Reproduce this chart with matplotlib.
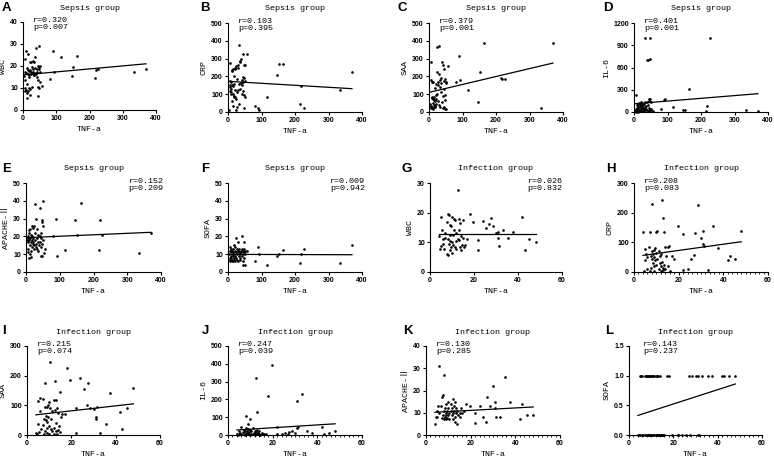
import numpy as np
import matplotlib.pyplot as plt
from matplotlib.ticker import MultipleLocator, FormatStrFormatter

W, H = 774, 458

# ---- sepsis group (TNF-a shared by panels A-F) ----
sepsis_tnf = [4, 5, 5, 6, 7, 7, 8, 9, 10, 10,
              11, 12, 12, 13, 14, 15, 15, 16, 17, 17,
              18, 19, 20, 20, 21, 22, 23, 24, 25, 26,
              27, 28, 29, 30, 31, 32, 33, 34, 35, 36,
              37, 38, 40, 41, 42, 43, 44, 44, 45, 46,
              47, 47, 48, 49, 50, 50, 52, 56,
              81, 90, 92, 115, 146, 151, 163, 216, 219, 226, 334, 370]

sepsis_wbc = [15.5, 9.9, 23, 13.7, 17.5, 8.5, 9.2, 16.8, 26.6, 17,
              7.6, 5.3, 19, 12, 16.5, 25.5, 8.8, 18.2, 9.9, 15.2,
              17.8, 16, 6.8, 18, 21.8, 9.4, 17.2, 22, 16.5, 19.5,
              10.3, 16.7, 22.4, 17.5, 18.5, 22, 15.8, 16, 17, 19,
              24.3, 16.2, 28, 17.5, 18.8, 15, 13.7, 10.3, 19.8, 6.4,
              29, 9.9, 18.5, 19.5, 20, 12.9, 17.5, 11,
              14.1, 26.6, 17.5, 24.3, 15.3, 19.7, 24.6, 14.7, 18.2, 18.7, 17.5, 18.8]

sepsis_crp = [9, 120, 175, 140, 275, 150, 100, 115, 168, 131,
              230, 234, 60, 150, 144, 32, 100, 240, 200, 84,
              160, 90, 243, 84, 250, 125, 9, 75, 260, 110,
              28, 187, 245, 262, 122, 375, 155, 43, 285, 130,
              281, 165, 300, 180, 150, 103, 324, 120, 195, 170,
              262, 97, 24, 193, 266, 84, 172, 328,
              32, 24, 9, 84, 206, 268, 268, 47, 146, 24, 125, 224]

sepsis_saa = [47, 20, 281, 30, 178, 32, 80, 25, 169, 84,
              50, 19, 170, 75, 65, 40, 85, 30, 32, 137,
              60, 28, 75, 45, 155, 94, 100, 365, 225, 150,
              169, 60, 40, 369, 215, 28, 140, 178, 110, 165,
              193, 55, 281, 90, 262, 20, 243, 131, 30, 175,
              187, 94, 19, 65, 169, 19, 165, 256,
              169, 313, 182, 125, 56, 225, 388, 193, 187, 184, 24, 388]

sepsis_il6 = [20, 5, 10, 40, 225, 15, 60, 30, 8, 90,
              25, 110, 5, 70, 45, 15, 120, 30, 80, 10,
              100, 20, 50, 95, 12, 130, 35, 75, 105, 60,
              20, 90, 40, 110, 15, 1002, 65, 130, 25, 80,
              45, 140, 697, 10, 705, 100, 170, 30, 150, 60,
              180, 20, 719, 1002, 140, 35, 25, 15,
              45, 157, 180, 67, 31, 22, 315, 13, 76, 1002, 22, 13]

sepsis_apache = [18, 11, 13, 19, 17, 20, 8, 22, 23.4, 18,
                 15, 24, 10, 19, 8.4, 17, 21, 12, 26, 18,
                 14, 20, 16, 25, 19, 17, 26, 13, 15, 38,
                 22, 18, 14, 16, 30, 24, 19, 13, 17, 21,
                 12, 15, 36, 20, 17, 22, 19, 14, 9, 28,
                 29, 16, 8.8, 40, 26, 18, 10.9, 13,
                 20, 30, 8.8, 12.2, 29, 21, 39, 12.2, 29, 21, 10.9, 22]

sepsis_sofa = [10, 12, 7, 8, 14, 6, 11, 9, 13, 8,
               6, 12, 10, 7, 9, 11, 13, 6, 15, 8,
               10, 7, 14, 9, 6, 12, 8, 19, 11, 13,
               7, 10, 12, 17, 6, 9, 11, 13, 8, 7,
               10, 12, 11, 9, 20, 13, 6, 10, 4, 12,
               11, 8, 13, 17, 4, 12, 10, 12,
               6, 14, 10, 4, 9.2, 10, 12.2, 5, 10, 13.1, 5, 15]

# ---- infection group (TNF-a shared by panels G-L) ----
infection_tnf = [4, 4.5, 5, 5, 5.5, 6, 6, 6.5, 7, 7,
                 7.5, 7.5, 8, 8, 8, 8.5, 8.5, 9, 9, 9,
                 9, 9.5, 9.5, 10, 10, 10, 10.5, 10.5, 11, 11,
                 11.5, 11.5, 12, 12, 12, 12.5, 12.5, 13, 13, 13,
                 13.5, 13.5, 14, 14, 14.5, 15, 15, 15.5, 16,
                 17, 18, 19.5, 22, 22, 24, 25.5, 27, 27.5, 28.5,
                 30, 31, 31, 31.5, 33, 35.5, 37.5, 42, 43, 45, 48]

infection_wbc = [12, 7.9, 18.5, 8.7, 14, 11, 9.5, 7.9, 11.6, 13,
                 6, 17, 19.7, 11, 5.8, 19.1, 9.5, 15.7, 10.5, 12.5,
                 7.3, 15.4, 8.3, 18.5, 10, 6.5, 12.5, 9.2, 18, 14,
                 17.4, 8.5, 13.1, 10.5, 7.8, 27.8, 11, 10.7, 18, 14,
                 16.5, 8.4, 7.3, 12, 9, 17.6, 11.6, 8.5, 9,
                 11.2, 19.7, 16.9, 10.9, 7.5, 17.1, 14.8, 16.1, 18.2, 15.4,
                 13, 13.5, 11.6, 8.8, 14, 11.5, 13.5, 18.5, 7.5, 11, 10]

infection_crp = [135, 5, 79, 40, 62, 50, 10, 85, 135, 5,
                 55, 15, 228, 45, 70, 30, 60, 75, 20, 50,
                 5, 80, 40, 134, 25, 65, 137, 45, 70, 10,
                 30, 55, 20, 60, 5, 244, 35, 183, 15, 8,
                 135, 25, 85, 10, 55, 84, 20, 86, 5,
                 53, 45, 154, 8, 127, 11, 45, 56, 131, 225,
                 116, 138, 96, 87, 8, 154, 82, 39, 53, 45, 138]

infection_saa = [8, 3, 116, 38, 10, 124, 80, 20, 120, 35,
                 5, 55, 174, 95, 15, 65, 50, 95, 25, 45,
                 8, 100, 60, 110, 30, 5, 247, 90, 20, 55,
                 12, 80, 118, 25, 3, 183, 85, 118, 15, 40,
                 90, 5, 75, 18, 30, 146, 10, 60, 70,
                 71, 225, 185, 90, 8, 191, 154, 101, 176, 90,
                 86, 60, 53, 95, 8, 37, 143, 79, 20, 90, 160]

infection_il6 = [5, 2, 20, 3, 10, 45, 5, 15, 8, 30,
                 2, 25, 107, 12, 40, 5, 20, 60, 3, 35,
                 10, 15, 5, 88, 30, 2, 20, 8, 40, 5,
                 12, 3, 25, 8, 2, 318, 15, 131, 5, 30,
                 10, 3, 20, 6, 2, 12, 4, 8, 3,
                 5, 219, 393, 47, 3, 8, 12, 5, 15, 20,
                 10, 193, 37, 47, 228, 24, 9, 43, 5, 13, 22]

infection_apache = [5, 8, 11, 8.2, 13, 31, 10, 13, 17, 7.5,
                    18, 9, 27, 11, 7, 12, 8, 10, 7, 14,
                    9, 11, 7.5, 15, 9, 12, 10, 7, 14, 11,
                    12, 9, 16, 10, 7, 13, 11, 15, 8, 6,
                    10, 12, 5, 11, 9, 10, 8, 12, 10,
                    11, 14, 13, 10, 5.2, 13, 8.2, 6, 17, 13,
                    22, 15, 12, 8.2, 8.2, 26, 15, 7, 14, 9, 9]

infection_sofa = [0, 0, 1, 0, 1, 0, 1, 0, 1, 0,
                  1, 0, 1, 0, 1, 0, 1, 0, 1, 0,
                  0, 1, 0, 1, 0, 0, 1, 0, 1, 0,
                  0, 1, 0, 1, 0, 0, 1, 0, 1, 0,
                  0, 0, 1, 0, 0, 0, 0, 0, 0,
                  1, 1, 0, 0, 0, 0, 0, 1, 0, 1,
                  1, 1, 0, 0, 1, 1, 1, 1, 1, 1, 1]

# fitted line values (at min TNF-a, at max TNF-a)
fit_start = [16.0, 172, 112, 112, 19.3, 9.9, 12.9, 56, 68, 28, 10.2, 0.33]
fit_end = [21.0, 131, 275, 247, 22.3, 9.7, 12.9, 102, 105, 63, 12.6, 0.86]

r_values = ["0.320", "0.103", "0.379", "0.401", "0.152", "0.009",
            "0.026", "0.208", "0.215", "0.247", "0.130", "0.143"]
p_values = ["0.007", "0.395", "0.001", "0.001", "0.209", "0.942",
            "0.832", "0.083", "0.074", "0.039", "0.285", "0.237"]

letters = list("ABCDEFGHIJKL")
titles = ["Sepsis group"] * 6 + ["Infection group"] * 6
ylabels = ["WBC", "CRP", "SAA", "IL-6", "APACHE-Ⅱ", "SOFA",
           "WBC", "CRP", "SAA", "IL-6", "APACHE-Ⅱ", "SOFA"]
xs = [sepsis_tnf] * 6 + [infection_tnf] * 6
ys = [sepsis_wbc, sepsis_crp, sepsis_saa, sepsis_il6, sepsis_apache, sepsis_sofa,
      infection_wbc, infection_crp, infection_saa, infection_il6,
      infection_apache, infection_sofa]
ymax = [40, 500, 500, 1200, 50, 50, 30, 300, 300, 500, 40, 1.5]
ystep = [10, 100, 100, 300, 10, 10, 10, 100, 100, 100, 10, 0.5]

# axes boxes in pixels: left, right, top, bottom
boxes = [(23, 156, 22, 110), (228, 362, 23, 112), (429, 563, 23, 112), (634, 768, 23, 112),
         (26, 161, 183, 272), (228, 362, 183, 272), (430, 562, 183, 272), (634, 768, 183, 272),
         (27, 160, 346, 435), (228, 362, 346, 435), (426, 560, 346, 435), (629, 762, 346, 435)]
letter_pos = [(2, 2), (200, 2), (398, 2), (603, 2),
              (2, 163), (201, 163), (402, 163), (606, 163),
              (2, 325), (202, 325), (403, 325), (605, 325)]
title_y = [9] * 4 + [169] * 4 + [333] * 4
stat_right = [False, False, False, False, True, True, True, False,
              False, False, False, False]
minor_x = [False] * 7 + [True, False, True, True, True]

mono = ["Liberation Mono", "Noto Sans CJK SC", "DejaVu Sans"]
fs = 6.0

fig = plt.figure(figsize=(W / 100, H / 100), dpi=100)


def fx(px):
    return px / W


def fy(py):
    return 1 - py / H


for i in range(12):
    l, r, t, b = boxes[i]
    ax = fig.add_axes([fx(l), fy(b), (r - l) / W, (b - t) / H])
    x = xs[i]
    y = ys[i]
    ax.scatter(x, y, s=3.6, c="black", linewidths=0, clip_on=False, zorder=3)
    ax.plot([min(x), max(x)], [fit_start[i], fit_end[i]], color="black", lw=0.9)

    if i < 6:
        ax.set_xlim(0, 400)
        ax.set_xticks([0, 100, 200, 300, 400])
    else:
        ax.set_xlim(0, 60)
        ax.set_xticks([0, 20, 40, 60])
        if minor_x[i]:
            ax.xaxis.set_minor_locator(MultipleLocator(2))
    ax.set_ylim(0, ymax[i])
    ax.set_yticks(np.arange(0, ymax[i] + ystep[i] / 2, ystep[i]))
    if i == 11:
        ax.yaxis.set_major_formatter(FormatStrFormatter("%.1f"))

    for s in ["top", "right"]:
        ax.spines[s].set_visible(False)
    for s in ["left", "bottom"]:
        ax.spines[s].set_linewidth(0.8)
    ax.tick_params(which="major", length=2.5, width=0.8, pad=1.2,
                   labelsize=5, direction="out")
    ax.tick_params(which="minor", length=1.5, width=0.6)
    for lab in ax.get_xticklabels() + ax.get_yticklabels():
        lab.set_fontfamily("Liberation Sans")
        lab.set_fontweight("bold")

    ax.set_xlabel("TNF-a", family=mono, fontsize=fs, labelpad=2.5)
    ax.set_ylabel(ylabels[i], family=mono, fontsize=fs, labelpad=2.5)

    stat = "r=" + r_values[i] + "\np=" + p_values[i]
    if stat_right[i]:
        sx = 0.76 if i < 6 else 0.74
    else:
        sx = 0.075 if i != 11 else 0.105
    ax.text(sx, 1.06, stat, transform=ax.transAxes, family=mono, fontsize=fs,
            va="top", ha="left", linespacing=1.1)

    fig.text(fx((l + r) / 2), fy(title_y[i]), titles[i], family=mono,
             fontsize=fs, ha="center", va="center")
    lx, ly = letter_pos[i]
    fig.text(fx(lx), fy(ly), letters[i], family="Liberation Sans",
             fontweight="bold", fontsize=9.5, ha="left", va="top")

fig.savefig("out.png", dpi=100)
